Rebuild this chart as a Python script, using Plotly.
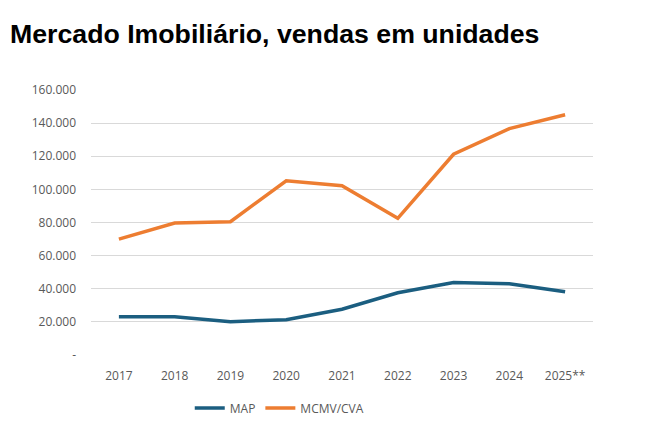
import plotly.graph_objects as go

years = ["2017", "2018", "2019", "2020", "2021", "2022", "2023", "2024", "2025**"]
map_values = [23100, 23100, 20100, 21300, 27600, 37600, 43700, 43000, 38200]
mcmv_values = [70000, 79700, 80500, 105200, 102200, 82500, 121200, 136700, 145100]
y_tickvals = [0, 20000, 40000, 60000, 80000, 100000, 120000, 140000, 160000]
y_ticktext = ["-", "20.000", "40.000", "60.000", "80.000", "100.000", "120.000", "140.000", "160.000"]

fig = go.Figure()
fig.add_trace(go.Scatter(x=years, y=map_values, name="MAP", mode="lines",
                         line=dict(color="#1B5E80", width=3.5)))
fig.add_trace(go.Scatter(x=years, y=mcmv_values, name="MCMV/CVA", mode="lines",
                         line=dict(color="#ED7D31", width=3.5)))

fig.update_layout(
    width=665, height=435,
    margin=dict(l=83, r=80, t=82, b=88, autoexpand=False),
    paper_bgcolor="white", plot_bgcolor="white",
    title=dict(text="<b>Mercado Imobiliário, vendas em unidades</b>",
               font=dict(family="Liberation Sans", size=26.7, color="black"),
               x=2/665, xanchor="left", xref="container",
               y=1-26/435, yanchor="middle", yref="container",
               pad=dict(l=0, r=0, t=0, b=0)),
    font=dict(family="Open Sans", size=12, color="#595959"),
    showlegend=True,
    legend=dict(orientation="h", x=0.376, xanchor="center", y=-0.2, yanchor="middle",
                font=dict(family="Open Sans", size=12, color="#595959")),
)
fig.update_xaxes(range=[-0.5, 8.5], showgrid=False, showline=False, ticks="", ticklabelstandoff=12)
fig.update_yaxes(range=[0, 160000], tickvals=y_tickvals, ticktext=y_ticktext,
                 showgrid=True, gridcolor="#D9D9D9", gridwidth=1, zeroline=False,
                 showline=False, ticks="", ticklabelstandoff=14)

fig.write_html("out.html")
